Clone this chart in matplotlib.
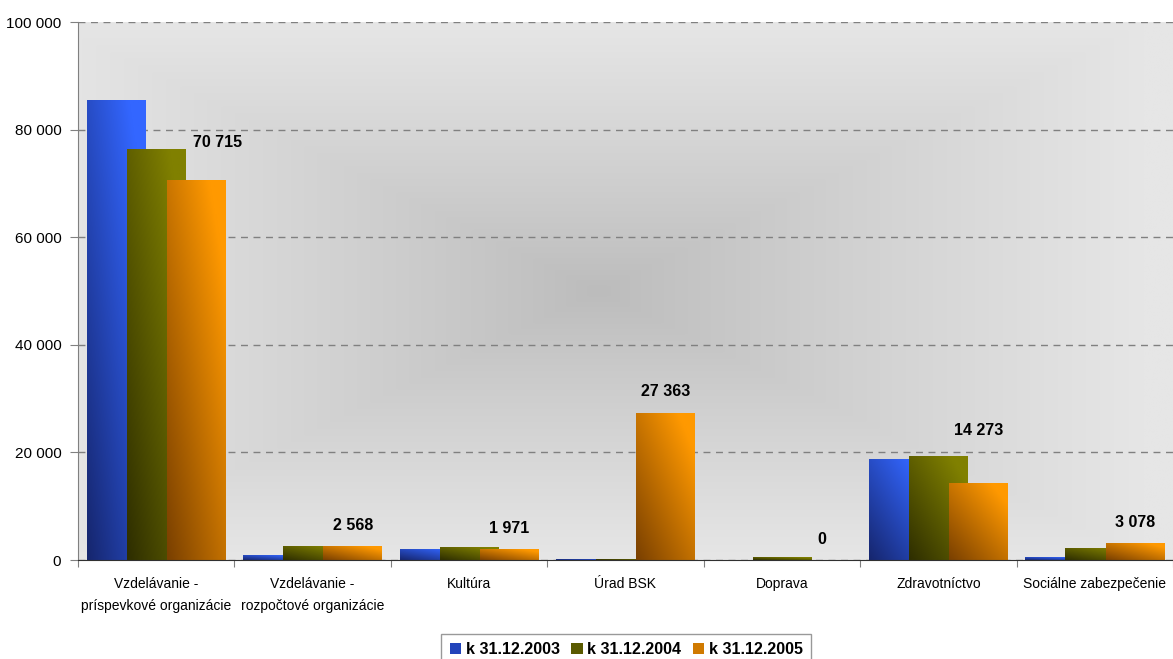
import numpy as np
import matplotlib.pyplot as plt
from matplotlib.colors import LinearSegmentedColormap
from matplotlib.patches import Patch

# data
categories = ["Vzdelávanie -\npríspevkové organizácie", "Vzdelávanie -\nrozpočtové organizácie",
              "Kultúra", "Úrad BSK", "Doprava", "Zdravotníctvo", "Sociálne zabezpečenie"]
series = ["k 31.12.2003", "k 31.12.2004", "k 31.12.2005"]
v2003 = [85500, 900, 2050, 200, 0, 18750, 550]
v2004 = [76400, 2600, 2400, 200, 550, 19300, 2250]
v2005 = [70715, 2568, 1971, 27363, 0, 14273, 3078]
labels2005 = ["70 715", "2 568", "1 971", "27 363", "0", "14 273", "3 078"]

# extra (dx, dy) in points for the 2005 labels, as Excel placed them
label_dx = [15, 0, 0, 0, 0, 0, 0]
label_dy = [27, 15, 15, 15, 15, 38, 15]

# (dark, light) gradient per series
grads = [("#16266e", "#3366ff"), ("#2e2e00", "#808000"), ("#7a4000", "#ff9900")]
legend_cols = ["#2244bb", "#5a5a00", "#d07a00"]

plt.rcParams['font.family'] = ['Liberation Sans', 'DejaVu Sans']

fig = plt.figure(figsize=(11.73, 6.59), dpi=100)
ax = fig.add_axes([78/1173, 1 - 560/659, 1 - 78/1173, (560 - 22)/659])

ymax = 100000
n = len(categories)

# background: rectangular gradient from center
xx, yy = np.meshgrid(np.linspace(-1, 1, 400), np.linspace(-1, 1, 300))
d = np.maximum(np.abs(xx + 0.05), np.abs(yy))
d = np.clip(d, 0, 1) ** 0.9
bg = LinearSegmentedColormap.from_list("bg", ["#bcbcbc", "#e6e6e6"])
ax.imshow(d, cmap=bg, extent=[0, n, 0, ymax], aspect='auto', origin='lower', zorder=0,
          interpolation='bilinear')

# bar geometry (in category units)
width = 0.375
step = 0.256
x = np.arange(n) + 0.5

gy, gx = np.mgrid[0:1:60j, 0:1:60j]
tgrad = np.clip(0.55 * gx + 0.6 * gy, 0, 1)

for i, vals in enumerate([v2003, v2004, v2005]):
    cm = LinearSegmentedColormap.from_list("g%d" % i, list(grads[i]))
    bars = ax.bar(x + (i - 1) * step, vals, width, color='none', zorder=3 + i)
    for b in bars:
        h = b.get_height()
        if h <= 0:
            continue
        x0 = b.get_x()
        im = ax.imshow(tgrad, cmap=cm, vmin=0, vmax=1, origin='lower', aspect='auto',
                       extent=[x0, x0 + b.get_width(), 0, h], zorder=3 + i,
                       interpolation='bilinear')
        im.set_clip_path(b)

for i, v in enumerate(v2005):
    ax.annotate(labels2005[i], (x[i] + step, v), xytext=(label_dx[i], label_dy[i]),
                textcoords='offset points', ha='center', va='center',
                fontsize=11.5, fontweight='bold', zorder=10)

ax.set_xlim(0, n)
ax.set_ylim(0, ymax)
ax.set_yticks(range(0, ymax + 1, 20000))
ax.set_yticklabels(["0" if t == 0 else "%d %03d" % (t // 1000, t % 1000)
                    for t in range(0, ymax + 1, 20000)], fontsize=11)
ax.yaxis.grid(True, linestyle=(0, (5, 4)), color='#808080', linewidth=1)
ax.set_axisbelow(False)
for gl in ax.get_ygridlines():
    gl.set_zorder(1)

ax.set_xticks(np.arange(n + 1))
ax.set_xticklabels([])
ax.set_xticks(x, minor=True)
ax.set_xticklabels(categories, minor=True, fontsize=10, linespacing=1.75)
ax.tick_params(axis='x', which='minor', length=0, pad=12)
ax.tick_params(axis='x', which='major', length=5, color='#808080')
ax.tick_params(axis='y', length=6, color='#808080', pad=6)

for s in ['top', 'right']:
    ax.spines[s].set_visible(False)
ax.spines['left'].set_color('#808080')
ax.spines['bottom'].set_color('#303030')
ax.spines['bottom'].set_zorder(8)

handles = [Patch(facecolor=c) for c in legend_cols]
leg = fig.legend(handles, series, loc='lower center', bbox_to_anchor=(0.534, -0.011),
                 ncol=3, frameon=True, fancybox=False, edgecolor='#808080',
                 prop={'weight': 'bold', 'size': 11.5}, handlelength=0.7, handleheight=0.7,
                 handletextpad=0.3, columnspacing=0.7, borderpad=0.55, borderaxespad=0)
leg.get_frame().set_linewidth(1)

fig.savefig("out.png", dpi=100)
